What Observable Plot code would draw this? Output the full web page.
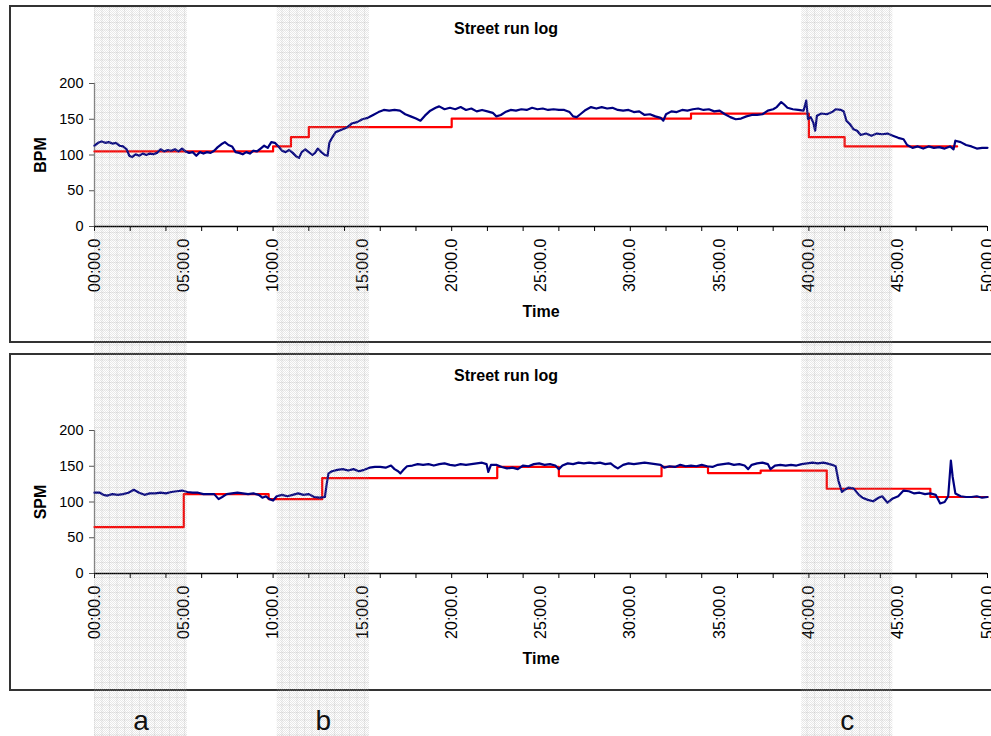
<!DOCTYPE html>
<html>
<head>
<meta charset="utf-8">
<script src="https://cdn.jsdelivr.net/npm/d3@7"></script>
<script src="https://cdn.jsdelivr.net/npm/@observablehq/plot@0.6"></script>
<style>
  html, body { margin: 0; padding: 0; background: #fff; }
  #wrap { position: relative; width: 991px; height: 736px; overflow: hidden; font-family: "Liberation Sans", Arial, sans-serif; }
  #wrap svg { position: absolute; }
</style>
</head>
<body>
<div id="wrap"></div>
<script>
// ---------- DATA ----------
const title = "Street run log";
const xLabel = "Time";
const yTicks = [0, 50, 100, 150, 200];
const minorTicks = [0,2,4,6,8,10,12,14,16,18,20,22,24,26,28,30,32,34,36,38,40,42,44,46,48,50];
const labelMinutes = [0, 5, 10, 15, 20, 25, 30, 35, 40, 45, 50];
const tickLabels = ["00:00.0","05:00.0","10:00.0","15:00.0","20:00.0","25:00.0","30:00.0","35:00.0","40:00.0","45:00.0","50:00.0"];

// heart rate (BPM), minutes
const bpmT = [0,0.2,0.4,0.6,0.8,1.0,1.2,1.4,1.6,1.8,1.95,2.1,2.3,2.5,2.7,2.9,3.1,3.3,3.5,3.7,3.9,4.1,4.3,4.5,4.7,4.9,5.1,5.3,5.5,5.7,5.9,6.1,6.3,6.5,6.7,6.9,7.1,7.3,7.5,7.7,7.9,8.1,8.3,8.5,8.7,8.9,9.1,9.3,9.5,9.7,9.9,10.1,10.3,10.5,10.7,10.9,11.1,11.3,11.45,11.6,11.8,12.0,12.2,12.35,12.5,12.7,12.9,13.05,13.15,13.3,13.5,13.8,14.1,14.4,14.7,15.0,15.3,15.6,15.9,16.2,16.5,16.8,17.1,17.4,17.7,18.0,18.25,18.5,18.8,19.1,19.3,19.6,19.9,20.2,20.5,20.8,21.1,21.4,21.7,22.0,22.3,22.5,22.75,23.0,23.3,23.6,23.9,24.2,24.5,24.8,25.1,25.4,25.7,26.0,26.3,26.6,26.8,27.0,27.2,27.5,27.8,28.1,28.4,28.7,29.0,29.3,29.6,29.9,30.2,30.5,30.8,31.1,31.4,31.7,31.85,32.0,32.3,32.6,32.9,33.2,33.5,33.8,34.1,34.4,34.7,35.0,35.3,35.6,35.9,36.2,36.5,36.8,37.1,37.4,37.7,38.0,38.2,38.45,38.6,38.8,39.1,39.4,39.7,39.85,39.95,40.1,40.25,40.35,40.45,40.7,41.0,41.3,41.5,41.8,41.95,42.1,42.3,42.5,42.7,42.9,43.2,43.5,43.8,44.1,44.4,44.7,45.0,45.3,45.5,45.8,46.1,46.4,46.7,47.0,47.3,47.6,47.9,48.1,48.2,48.5,48.8,49.1,49.4,49.7,50.0];
const bpmV = [113,117,119,117,118,116,117,113,112,108,99,97,101,99,102,100,102,101,103,108,105,107,106,108,105,109,105,103,104,99,104,102,104,103,106,111,115,118,114,112,104,103,101,104,102,106,105,109,113,110,118,117,112,106,104,107,103,98,96,104,108,104,100,103,109,104,100,99,117,124,132,135,138,144,146,150,152,156,160,163,162,163,162,157,154,151,148,155,162,166,168,164,166,164,167,163,165,161,163,161,159,154,156,160,163,162,164,163,166,164,165,163,164,163,163,160,154,153,157,163,167,165,167,165,166,163,162,163,160,161,156,157,154,152,148,157,161,160,163,162,164,165,163,164,161,162,157,153,150,151,154,156,156,157,162,164,167,174,171,166,164,163,162,176,150,153,145,134,155,158,157,160,164,163,161,148,143,136,134,128,130,127,130,129,130,127,124,122,114,110,112,109,112,110,111,109,112,108,120,118,114,112,109,110,110];

// cadence (SPM), minutes
const spmT = [0,0.3,0.5,0.7,1.0,1.3,1.6,1.9,2.2,2.5,2.8,3.1,3.4,3.7,4.0,4.3,4.6,4.9,5.2,5.5,5.8,6.1,6.4,6.7,6.95,7.15,7.4,7.7,8.0,8.3,8.6,8.9,9.2,9.4,9.6,9.8,10.0,10.2,10.5,10.8,11.1,11.4,11.7,12.0,12.3,12.6,12.9,13.0,13.1,13.3,13.6,13.9,14.2,14.5,14.8,15.1,15.4,15.7,16.0,16.3,16.6,16.8,17.0,17.13,17.3,17.5,17.8,18.1,18.4,18.7,19.0,19.3,19.6,19.9,20.2,20.5,20.8,21.1,21.4,21.7,21.95,22.05,22.2,22.5,22.8,23.1,23.4,23.7,24.0,24.3,24.6,24.9,25.2,25.5,25.8,26.0,26.2,26.5,26.8,27.1,27.4,27.7,28.0,28.3,28.6,28.9,29.1,29.3,29.6,29.9,30.2,30.5,30.8,31.1,31.4,31.7,31.9,32.2,32.5,32.8,33.1,33.4,33.7,34.0,34.3,34.6,34.9,35.2,35.5,35.8,36.1,36.4,36.6,36.8,37.1,37.4,37.7,37.85,38.1,38.4,38.7,39.0,39.3,39.6,39.9,40.2,40.5,40.8,41.0,41.3,41.5,41.65,41.85,42.0,42.2,42.5,42.8,43.0,43.3,43.6,43.9,44.1,44.4,44.7,45.0,45.3,45.6,45.9,46.2,46.5,46.8,47.1,47.35,47.6,47.8,47.95,48.05,48.2,48.5,48.8,49.1,49.4,49.7,50.0];
const spmV = [113,113,110,109,111,110,111,113,117,113,110,112,112,113,112,114,115,116,114,113,113,111,111,111,104,107,111,112,113,112,111,112,110,106,108,104,102,108,110,108,110,112,110,111,107,106,107,125,140,143,145,146,144,146,143,145,148,149,149,148,151,146,143,140,145,150,151,153,152,153,151,153,154,152,151,153,152,153,154,155,153,142,152,152,149,147,148,146,151,150,153,154,152,153,151,146,151,154,153,155,154,155,154,155,153,154,150,147,152,154,153,154,155,154,153,152,148,150,149,152,150,151,150,152,150,149,152,153,154,152,153,151,146,152,154,155,153,146,151,152,151,152,151,153,154,155,154,155,154,152,150,130,114,117,120,119,110,106,103,101,106,108,99,105,108,116,115,112,113,111,112,110,98,100,108,158,135,112,108,107,107,108,106,107];

// target steps (start minute, value) and where each step line ends
const bpmStepT = [0, 10, 11, 12, 20, 33.4, 40, 42];
const bpmStepV = [105, 112, 125, 139, 151, 158, 125, 112];
const bpmStepEnd = 48.3;
const spmStepT = [0, 5, 9.75, 12.75, 22.55, 26, 31.75, 34.35, 37.3, 41, 46.8];
const spmStepV = [65, 111, 104, 133.5, 149, 136, 149, 140.5, 144, 118.5, 107];
const spmStepEnd = 50;

// highlighted sections
const bandNames = ["a", "b", "c"];
const bandStart = [0, 10.23, 39.6];
const bandEnd = [5.2, 15.4, 44.7];

// ---------- BUILD ----------
const FONT = '"Liberation Sans", Arial, sans-serif';
const series = (T, V) => T.map((t, i) => ({t, v: V[i]}));
const steps = (T, V, end) => T.map((t, i) => ({t, v: V[i]})).concat([{t: end, v: V[V.length - 1]}]);
const fmt = d => tickLabels[labelMinutes.indexOf(d)];

function panel(yName, data, stepData, top, mTop, mBottom, h) {
  const svg = Plot.plot({
    width: 984, height: h,
    marginLeft: 83, marginRight: 8, marginTop: mTop, marginBottom: mBottom,
    style: {fontFamily: FONT, background: "white", overflow: "visible", border: "2px solid #333", maxWidth: "none"},
    x: {domain: [0, 50], axis: null},
    y: {domain: [0, 200], axis: null},
    marks: [
      Plot.ruleX([0], {y1: 0, y2: 200, stroke: "#808080", strokeWidth: 1.3}),
      Plot.axisY(yTicks, {tickSize: 5, tickPadding: 6, stroke: "#555", fill: "black", fontSize: 14.5, label: null}),
      Plot.ruleY([0], {stroke: "black", strokeWidth: 1.3}),
      Plot.axisX(minorTicks, {tickSize: 5, stroke: "black", tickFormat: () => "", label: null}),
      Plot.axisX(labelMinutes, {tickSize: 0, tickPadding: 12, tickRotate: -90, tickFormat: fmt, fill: "black", fontSize: 16, label: null}),
      Plot.line(stepData, {x: "t", y: "v", curve: "step-after", stroke: "#ff0000", strokeWidth: 2.2}),
      Plot.line(data, {x: "t", y: "v", stroke: "#000080", strokeWidth: 2.2}),
      Plot.text([title], {frameAnchor: "top", lineAnchor: "middle", dx: -35, dy: -55, fontSize: 16, fontWeight: "bold", fill: "black"}),
      Plot.text([xLabel], {frameAnchor: "bottom", lineAnchor: "middle", dy: 85, fontSize: 16, fontWeight: "bold", fill: "black"}),
      Plot.text([yName], {frameAnchor: "left", textAnchor: "middle", lineAnchor: "middle", dx: -54, rotate: -90, fontSize: 16, fontWeight: "bold", fill: "black"})
    ]
  });
  svg.style.left = "9px";
  svg.style.top = top + "px";
  return svg;
}

const wrap = document.getElementById("wrap");
wrap.appendChild(panel("BPM", series(bpmT, bpmV), steps(bpmStepT, bpmStepV, bpmStepEnd), 5, 76, 115, 334));
wrap.appendChild(panel("SPM", series(spmT, spmV), steps(spmStepT, spmStepV, spmStepEnd), 353, 75, 116, 334));

const bands = bandNames.map((n, i) => ({name: n, x1: bandStart[i], x2: bandEnd[i], xm: (bandStart[i] + bandEnd[i]) / 2}));
const overlay = Plot.plot({
  width: 991, height: 736,
  marginLeft: 94, marginRight: 4, marginTop: 7, marginBottom: 0,
  style: {fontFamily: FONT, background: "transparent", overflow: "visible", maxWidth: "none", pointerEvents: "none"},
  x: {domain: [0, 50], axis: null},
  y: {domain: [0, 1], axis: null},
  marks: [
    Plot.rect(bands, {x1: "x1", x2: "x2", y1: 0, y2: 1, fill: "url(#bandDots)"}),
    Plot.rect(bands, {x1: "x1", x2: "x2", y1: 0, y2: 1, fill: "url(#bandGrid)"}),
    Plot.text(bands, {x: "xm", frameAnchor: "bottom", lineAnchor: "middle", dy: -15, text: "name", fontSize: 28, fill: "#111"})
  ]
});
overlay.style.left = "0px";
overlay.style.top = "0px";
const ns = "http://www.w3.org/2000/svg";
const defs = document.createElementNS(ns, "defs");
defs.innerHTML = `
  <pattern id="bandDots" width="2" height="2" patternUnits="userSpaceOnUse">
    <rect x="0" y="0" width="1" height="1" fill="rgba(150,150,150,0.22)"/>
    <rect x="1" y="1" width="1" height="1" fill="rgba(150,150,150,0.22)"/>
  </pattern>
  <pattern id="bandGrid" x="94" y="7" width="7.5" height="7.5" patternUnits="userSpaceOnUse">
    <rect x="0" y="0" width="7.5" height="1" fill="rgba(140,140,140,0.15)"/>
    <rect x="0" y="0" width="1" height="7.5" fill="rgba(140,140,140,0.15)"/>
  </pattern>`;
overlay.insertBefore(defs, overlay.firstChild);
wrap.appendChild(overlay);
</script>
</body>
</html>
